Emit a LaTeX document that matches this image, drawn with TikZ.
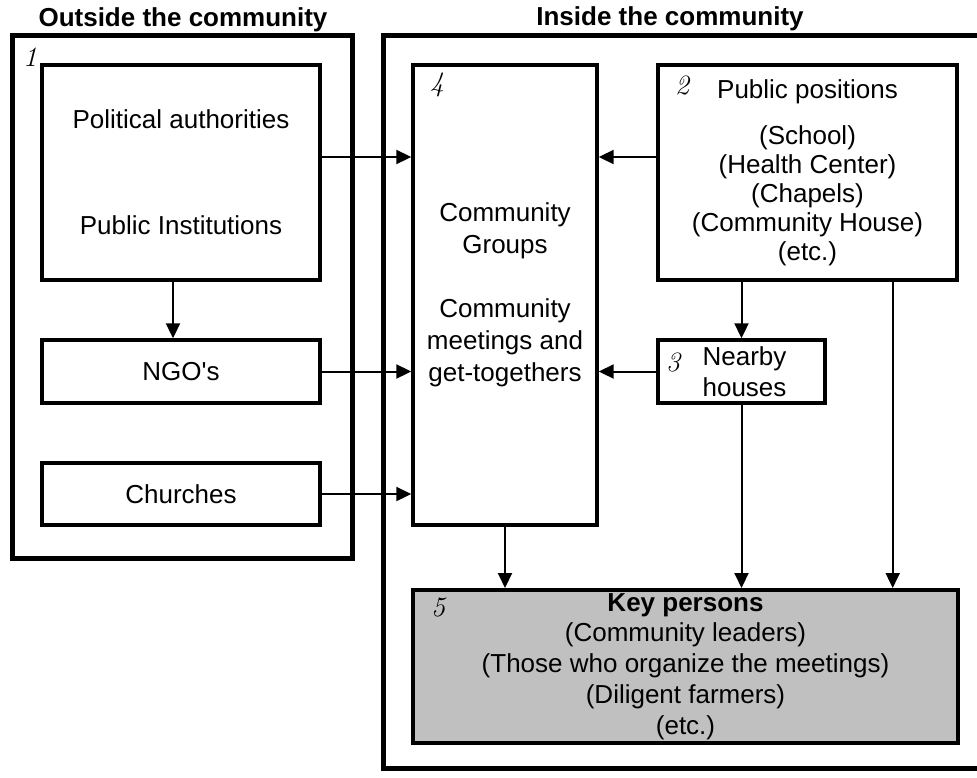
\documentclass[tikz,border=0pt]{standalone}
\usepackage{fontspec}
\setsansfont{Liberation Sans}
\usepackage{tikz}
\usetikzlibrary{arrows.meta,positioning,calc}
\definecolor{keygray}{HTML}{C0C0C0}

\begin{document}
\begin{tikzpicture}[
  x=0.5pt,y=-0.5pt,
  frame/.style={line width=2.5pt},
  box/.style={draw,line width=1.7pt,inner sep=0pt,align=center,
              font=\sffamily\fontsize{13}{16}\selectfont},
  num/.style={inner sep=0pt,font=\rmfamily\itshape\fontsize{14}{14}\selectfont},
  title/.style={inner sep=0pt,font=\sffamily\bfseries\fontsize{13}{16}\selectfont},
  arr/.style={-{Triangle[length=7.5pt,width=7pt]},line width=1pt}
]
\useasboundingbox (0,0) rectangle (977,777);
\draw[frame] (12,35) rectangle (352,558);
\draw[frame] (383,35) rectangle (1000,768);
\node[title] (outside) at (183,20) {Outside the community};
\node[title] (inside) at (670,19) {Inside the community};

\node[box,minimum width=139pt,minimum height=107.5pt] (pol) at (181,172.5)
  {Political authorities\\[37pt]Public Institutions};
\node[box,minimum width=139pt,minimum height=31.5pt] (ngo) at (181,371.5) {NGO\textquotesingle s};
\node[box,minimum width=139pt,minimum height=31pt] (chu) at (181,494) {Churches};
\node[box,minimum width=92pt,minimum height=230pt] (grp) at (505,295)
  {Community\\Groups\\[16pt]Community\\meetings and\\get-togethers};
\node[box,minimum width=149.5pt,minimum height=107.5pt,
      font=\sffamily\fontsize{13}{14.5}\selectfont] (pub) at (807.5,172.5)
  {Public positions\\[8.5pt](School)\\(Health Center)\\(Chapels)\\(Community House)\\(etc.)};
\node[box,minimum width=83.5pt,minimum height=31.5pt,
      font=\sffamily\fontsize{13}{15.5}\selectfont] (near) at (741.5,371.5)
  {\hspace*{3pt}Nearby\\\hspace*{3pt}houses};
\node[box,minimum width=272.5pt,minimum height=76.5pt,line width=2pt,fill=keygray,
      font=\sffamily\fontsize{13}{15.4}\selectfont] (key) at (685.5,666.5)
  {\textbf{Key persons}\\(Community leaders)\\(Those who organize the meetings)\\(Diligent farmers)\\(etc.)};

\node[num] (lab1) at (30,57) {1};
\node[num] (lab2) at (682,85) {2};
\node[num] (lab3) at (673,362) {3};
\node[num] (lab4) at (437,85) {4};
\node[num] (lab5) at (438,607) {5};

\draw[arr] ([yshift=7.75pt]pol.east) -- ([yshift=7.75pt]pol.east -| grp.west);
\draw[arr] (ngo.east) -- (ngo.east -| grp.west);
\draw[arr] (chu.east) -- (chu.east -| grp.west);
\draw[arr] ([yshift=7.75pt]pub.west) -- ([yshift=7.75pt]pub.west -| grp.east);
\draw[arr] (near.west) -- (near.west -| grp.east);
\draw[arr] ([xshift=-4pt]pol.south) -- ([xshift=-4pt]ngo.north);
\draw[arr] (near.north |- pub.south) -- (near.north);
\draw[arr] (grp.south) -- (grp.south |- key.north);
\draw[arr] (near.south) -- (near.south |- key.north);
\draw[arr] ([xshift=-33pt]pub.south east) -- ([xshift=-33pt]pub.south east |- key.north);
\end{tikzpicture}
\end{document}
